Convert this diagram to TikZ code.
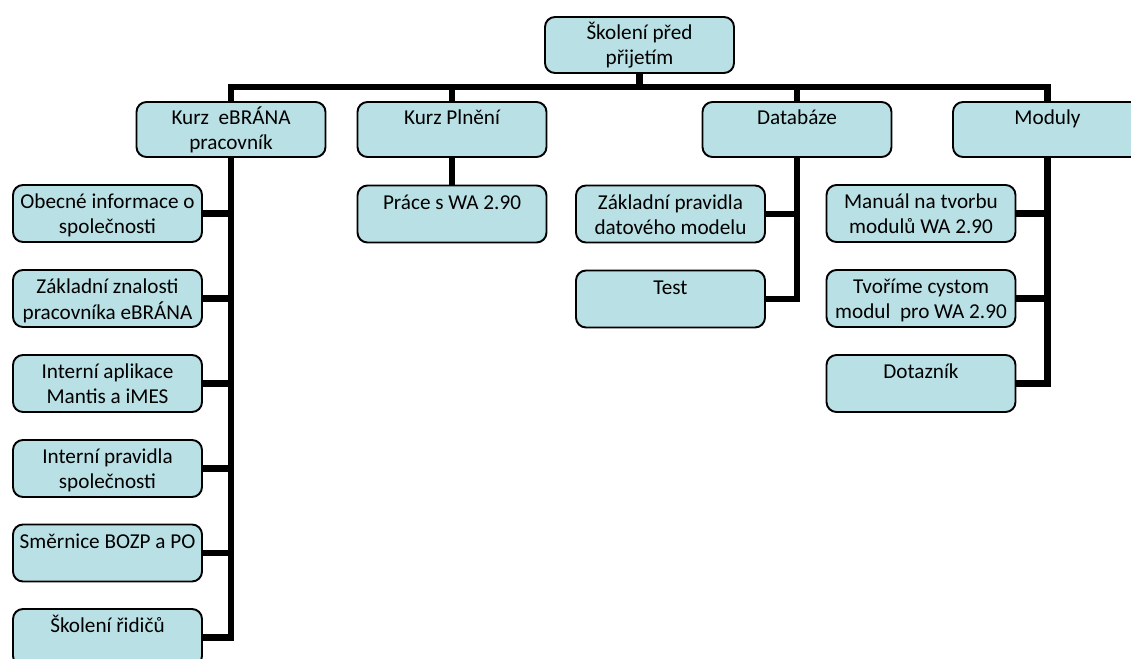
\documentclass[tikz,border=0pt]{standalone}
\usepackage{fontspec}
\setmainfont{Carlito}
\usetikzlibrary{backgrounds}
\definecolor{boxfill}{RGB}{185,224,228}
\newcommand\bxt[1]{\makebox[189pt]{\parbox[c][45pt][t]{230pt}{\centering\strut #1}}}
\begin{document}
\begin{tikzpicture}[x=1pt,y=-1pt,
  box/.style={draw=black, line width=1.9pt, rounded corners=10pt, fill=boxfill,
    minimum width=189pt, minimum height=57pt, inner sep=0pt,
    font=\fontsize{21.2}{25}\selectfont, text=black},
  topbox/.style={box, minimum height=55pt},
  conn/.style={line width=6.5pt, draw=black}]
\useasboundingbox (0,0) rectangle (1131,658);
\clip (0,0) rectangle (1131,658);
% top
\node[topbox, minimum height=56pt] (top) at (639.5,45) {\bxt{Školení před\\přijetím}};
% level 1
\node[topbox] (k1) at (231,129.5) {\bxt{Kurz\ \ eBRÁNA\\pracovník}};
\node[topbox] (k2) at (452,129.5) {\bxt{Kurz Plnění}};
\node[topbox] (db) at (797,129.5) {\bxt{Databáze}};
\node[topbox] (mo) at (1047.5,129.5) {\bxt{Moduly}};
% left column
\node[box] (a1) at (107.5,213.5) {\bxt{Obecné informace o\\společnosti}};
\node[box] (a2) at (107.5,298.5) {\bxt{Základní znalosti\\pracovníka eBRÁNA}};
\node[box] (a3) at (107.5,383.5) {\bxt{Interní aplikace\\Mantis a iMES}};
\node[box] (a4) at (107.5,468.5) {\bxt{Interní pravidla\\společnosti}};
\node[box] (a5) at (107.5,553) {\bxt{Směrnice BOZP a PO}};
\node[box] (a6) at (107.5,637.5) {\bxt{Školení řidičů}};
% Kurz Plneni
\node[box] (pr) at (452,214) {\bxt{Práce s WA 2.90}};
% Databaze
\node[box] (b1) at (670.5,214) {\bxt{Základní pravidla\\datového modelu}};
\node[box] (b2) at (670.5,299) {\bxt{Test}};
% Moduly
\node[box] (c1) at (921,213.5) {\bxt{Manuál na tvorbu\\modulů WA 2.90}};
\node[box] (c2) at (921,298.5) {\bxt{Tvoříme cystom\\modul\ \ pro WA 2.90}};
\node[box] (c3) at (921,383.5) {\bxt{Dotazník}};
\begin{scope}[on background layer]
\coordinate (bus) at (639.5,87);
\draw[conn] (top.south) -- (bus);
\draw[conn] (k1.north) |- (bus) -| (mo.north);
\draw[conn] (k2.north) -- (k2.north |- bus);
\draw[conn] (db.north) -- (db.north |- bus);
\foreach \c in {a1,a2,a3,a4,a5,a6} \draw[conn] (k1.south) |- (\c.east);
\draw[conn] (k2.south) -- (pr.north);
\foreach \c in {b1,b2} \draw[conn] (db.south) |- (\c.east);
\foreach \c in {c1,c2,c3} \draw[conn] (mo.south) |- (\c.east);
\end{scope}
\end{tikzpicture}
\end{document}
